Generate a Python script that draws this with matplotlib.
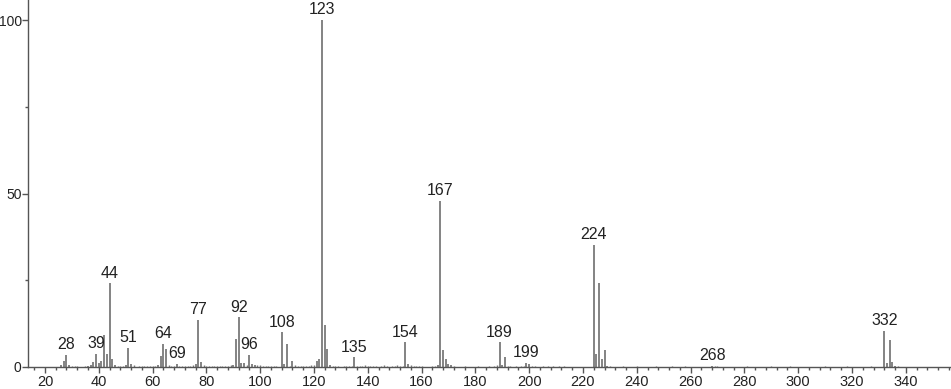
import matplotlib
matplotlib.use("Agg")
import matplotlib.pyplot as plt
from matplotlib.ticker import MultipleLocator, FixedLocator

# m/z and relative intensity (main peaks)
mz_main = [26, 27, 28, 29, 36, 37, 38, 39, 40, 41, 42, 43, 44, 45, 46,
           50, 51, 52, 62, 63, 64, 65, 69, 76, 77, 78, 90, 91, 92, 93, 94,
           96, 97, 98, 108, 109, 110, 112, 121, 122, 123, 124, 125, 126,
           135, 154, 155, 166, 167, 168, 169, 170, 171, 189, 190, 191,
           199, 200, 224, 225, 226, 227, 228, 229, 268, 332, 333, 334, 335, 336]
int_main = [0.5, 1.8, 3.4, 0.5, 0.3, 0.5, 1.5, 3.7, 1.1, 1.8, 9.2, 3.7, 24.1, 2.3, 0.6,
            0.7, 5.6, 1.0, 0.5, 3.2, 6.7, 5.2, 0.8, 0.8, 13.5, 1.5, 0.6, 8.1, 14.3, 1.1, 1.1,
            3.4, 0.9, 0.6, 10.0, 0.9, 6.6, 1.8, 1.8, 2.3, 100.0, 12.1, 5.1, 0.5,
            2.8, 7.1, 0.8, 0.5, 47.9, 4.9, 2.2, 1.0, 0.5, 7.1, 0.7, 2.8,
            1.2, 1.0, 35.2, 3.7, 24.3, 2.3, 4.9, 0.4, 0.3, 10.4, 1.2, 7.8, 1.5, 0.4]

# small background peaks
mz_small = [30, 31, 32, 35, 47, 48, 49, 53, 55, 56, 57, 58, 59, 60, 61, 66, 67, 68,
            70, 71, 72, 73, 74, 75, 79, 80, 81, 82, 83, 84, 85, 86, 87, 88, 89, 95,
            99, 100, 101, 102, 103, 104, 105, 106, 111, 113, 114, 115, 116, 117, 118,
            119, 120, 127, 128, 129, 131, 132, 133, 134, 136, 137, 138, 139, 140, 141,
            142, 143, 145, 146, 147, 149, 150, 151, 152, 153, 156, 157, 158, 159, 160,
            164, 165, 172, 176, 181, 185, 187, 188, 192, 193, 195, 197, 198, 201, 202,
            205, 207, 209, 211, 213, 230, 235, 240, 247, 253, 258, 269, 270, 281,
            290, 297, 310, 318, 327, 337]
int_small = [0.3, 0.4, 0.3, 0.3, 0.4, 0.3, 0.4, 0.5, 0.3, 0.4, 0.3, 0.4, 0.3, 0.4, 0.4, 0.5, 0.4, 0.3,
             0.4, 0.3, 0.4, 0.3, 0.4, 0.5, 0.6, 0.4, 0.3, 0.4, 0.3, 0.4, 0.3, 0.4, 0.3, 0.4, 0.5, 0.6,
             0.5, 0.6, 0.4, 0.3, 0.4, 0.3, 0.3, 0.4, 0.4, 0.5, 0.3, 0.4, 0.3, 0.4, 0.3,
             0.5, 0.6, 0.4, 0.3, 0.4, 0.3, 0.4, 0.3, 0.4, 0.4, 0.3, 0.4, 0.5, 0.3, 0.4,
             0.3, 0.4, 0.4, 0.5, 0.3, 0.4, 0.3, 0.5, 0.4, 0.3, 0.5, 0.4, 0.3, 0.4, 0.3,
             0.3, 0.4, 0.4, 0.3, 0.3, 0.3, 0.4, 0.5, 0.4, 0.3, 0.3, 0.3, 0.4, 0.4, 0.3,
             0.3, 0.3, 0.3, 0.3, 0.3, 0.4, 0.3, 0.3, 0.3, 0.3, 0.3, 0.3, 0.3, 0.3,
             0.3, 0.3, 0.3, 0.3, 0.3, 0.4]

labels = [28, 39, 44, 51, 64, 69, 77, 92, 96, 108, 123, 135, 154, 167, 189, 199, 224, 268, 332]

xticks = [20, 40, 60, 80, 100, 120, 140, 160, 180, 200, 220, 240, 260, 280, 300, 320, 340]
yticks = [0, 50, 100]

plt.rcParams['font.family'] = ['Liberation Sans', 'DejaVu Sans']

fig = plt.figure(figsize=(9.51, 3.89), dpi=100)
ax = fig.add_axes([28/951, 22/389, 923/951, 367/389])

bar_color = '#7a7a7a'
ax.vlines(mz_small, 0, int_small, colors=bar_color, linewidth=1.0)
ax.vlines(mz_main, 0, int_main, colors=bar_color, linewidth=1.3)

lookup = dict(zip(mz_main, int_main))
for m in labels:
    h = lookup.get(m, 0.3)
    ax.annotate(str(m), (m, h), xytext=(0, 2), textcoords='offset points',
                ha='center', va='bottom', fontsize=11.5, color='#222222')

ax.set_xlim(13.7, 356.8)
ax.set_ylim(0, 105.8)
ax.set_xticks(xticks)
ax.xaxis.set_minor_locator(MultipleLocator(4))
ax.yaxis.set_major_locator(FixedLocator(yticks))
ax.yaxis.set_minor_locator(FixedLocator([25, 75]))

for s in ['top', 'right']:
    ax.spines[s].set_visible(False)
for s in ['left', 'bottom']:
    ax.spines[s].set_color('#555555')
    ax.spines[s].set_linewidth(1.0)

ax.tick_params(axis='both', which='major', direction='out', length=4, width=1,
               color='#555555', labelcolor='#222222')
ax.tick_params(axis='x', which='major', labelsize=10.5, pad=1.5)
ax.tick_params(axis='y', which='major', labelsize=10, pad=0.5)
ax.tick_params(axis='both', which='minor', direction='out', length=2.5, width=1, color='#555555')

fig.savefig('out.png', dpi=100)
